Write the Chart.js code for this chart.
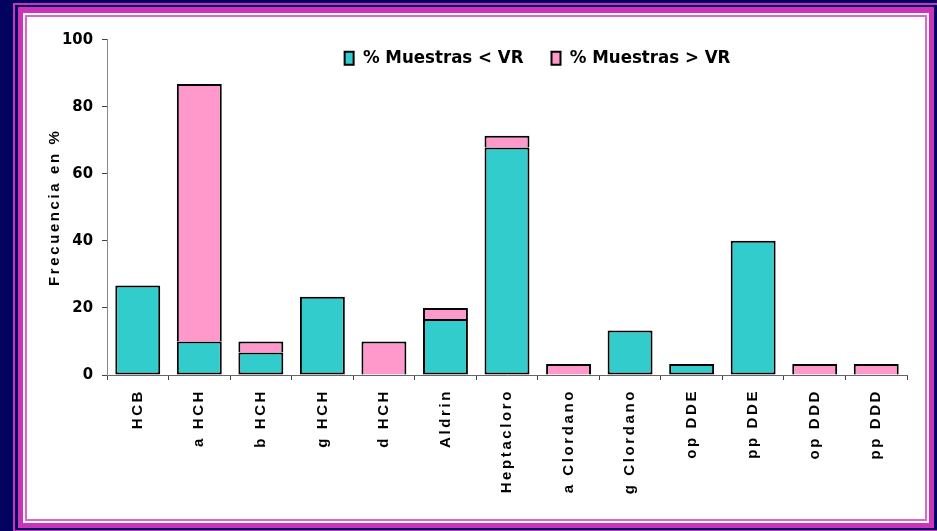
<!DOCTYPE html>
<html>
<head>
<meta charset="utf-8">
<script src="https://cdn.jsdelivr.net/npm/chart.js@4.4.1/dist/chart.umd.min.js"></script>
<style>
html, body { margin: 0; padding: 0; }
body { width: 937px; height: 531px; background: #020260; position: relative; overflow: hidden; }
.r { position: absolute; }
#r1 { left: 13px; top: 3px; width: 926px; height: 529px; background: #cc33bb; }
#r2 { left: 15px; top: 5px; width: 922px; height: 525px; background: #020260; }
#r3 { left: 18px; top: 7px; width: 916px; height: 521px; background: #cc33bb; }
#r4 { left: 23px; top: 13px; width: 906px; height: 510px; background: #fff; }
#r5 { left: 25px; top: 15px; width: 902px; height: 506px; background: #dd66cc; }
#r6 { left: 27px; top: 17px; width: 898px; height: 502px; background: #fff; }
#wrap { position: absolute; left: 28px; top: 17px; width: 897px; height: 502px; }
</style>
</head>
<body>
<div class="r" id="r1"></div>
<div class="r" id="r2"></div>
<div class="r" id="r3"></div>
<div class="r" id="r4"></div>
<div class="r" id="r5"></div>
<div class="r" id="r6"></div>
<div id="wrap"><canvas id="grafico" width="897" height="502"></canvas></div>
<script>
"use strict";

// datos
var categorias = ["HCB", "a HCH", "b HCH", "g HCH", "d HCH", "Aldrin", "Heptacloro",
	"a Clordano", "g Clordano", "op DDE", "pp DDE", "op DDD", "pp DDD"];
var bajoVR = [26.7, 10, 6.7, 23.3, 0, 16.7, 67.8, 0, 13.3, 3.3, 40, 0, 0];
var sobreVR = [0, 76.7, 3.3, 0, 10, 3.3, 3.5, 3.3, 0, 0, 0, 3.3, 3.3];
var ticksY = [0, 20, 40, 60, 80, 100];

// letter spacing for some texts (x labels, y title)
function espaciar(scale, metodo, px) {
	if (scale["_orig_" + metodo]) return;
	var orig = scale[metodo];
	scale["_orig_" + metodo] = orig;
	scale[metodo] = function () {
		var ctx = this.ctx;
		ctx.save();
		ctx.letterSpacing = px;
		orig.apply(this, arguments);
		ctx.restore();
	};
}

var ajustes = {
	id: "ajustes",
	afterLayout: function (chart) {
		// legend sits inside the plot area, a bit to the right
		var l = chart.legend;
		var h = l.bottom - l.top;
		l.top = 4;
		l.bottom = l.top + h;
		l.left += 70;
		l.right += 70;
	},
	beforeDraw: function (chart) {
		espaciar(chart.scales.x, "drawLabels", "2.6px");
		espaciar(chart.scales.y, "drawTitle", "2.6px");
	}
};

var ctx = document.getElementById("grafico");
var grafico = new Chart(ctx, {
	type: "bar",
	data: {
		labels: categorias,
		datasets: [
			{
				label: "% Muestras < VR",
				data: bajoVR,
				backgroundColor: "#33cccc",
				borderColor: "#000",
				borderWidth: 2,
				borderSkipped: false,
				inflateAmount: 0,
				barPercentage: 0.73,
				categoryPercentage: 1
			},
			{
				label: "% Muestras > VR",
				data: sobreVR,
				backgroundColor: "#ff99cc",
				borderColor: "#000",
				borderWidth: 2,
				borderSkipped: "start",
				inflateAmount: 0,
				barPercentage: 0.73,
				categoryPercentage: 1
			}
		]
	},
	options: {
		responsive: false,
		animation: false,
		layout: { padding: { top: -34, right: 18, bottom: 0, left: 0 } },
		plugins: {
			legend: {
				position: "top",
				labels: {
					boxWidth: 9,
					boxHeight: 13,
					padding: 28,
					color: "#000",
					font: { family: "'DejaVu Sans Condensed', 'DejaVu Sans'", size: 18.5, weight: "bold" }
				}
			},
			tooltip: { enabled: false }
		},
		scales: {
			x: {
				stacked: true,
				offset: true,
				grid: { offset: true, drawOnChartArea: false, tickLength: 5, color: "#444" },
				border: { color: "#666", width: 1 },
				ticks: {
					autoSkip: false,
					maxRotation: 90,
					minRotation: 90,
					padding: 9,
					color: "#000",
					font: { family: "'Liberation Sans', Arial", size: 15, weight: "bold" }
				},
				afterFit: function (s) { s.height = 144; }
			},
			y: {
				stacked: true,
				min: 0,
				max: 100,
				afterBuildTicks: function (s) {
					s.ticks = ticksY.map(function (v) { return { value: v }; });
				},
				grid: { drawOnChartArea: false, tickLength: 5, color: "#444" },
				border: { color: "#888", width: 1 },
				ticks: {
					padding: 9,
					color: "#000",
					font: { family: "'DejaVu Sans Condensed', 'DejaVu Sans'", size: 16.5, weight: "bold" }
				},
				title: {
					display: true,
					text: "Frecuencia en %",
					color: "#000",
					font: { family: "'Liberation Sans', Arial", size: 15, weight: "bold" },
					padding: { top: 18, bottom: 0 }
				},
				afterFit: function (s) { s.width = 79; }
			}
		}
	},
	plugins: [ajustes]
});
</script>
</body>
</html>
